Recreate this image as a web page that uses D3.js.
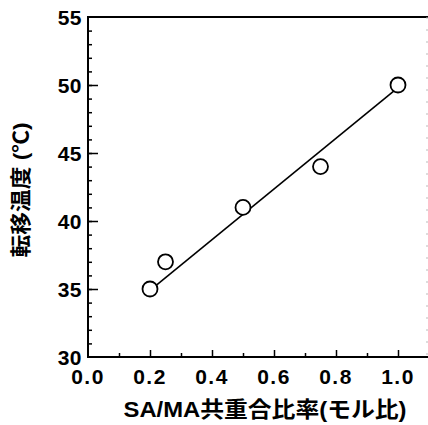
<!DOCTYPE html>
<html>
<head>
<meta charset="utf-8">
<script src="https://cdn.jsdelivr.net/npm/d3@7"></script>
<style>
  body { margin: 0; background: #fff; }
  text { font-family: "Liberation Sans", Arial, "Noto Sans CJK JP", sans-serif; font-weight: bold; fill: #000; }
</style>
</head>
<body>
<svg id="chart" width="428" height="425"></svg>
<script>
// measured points
const ratio = [0.2, 0.25, 0.5, 0.75, 1.0];
const temp = [35, 37, 41, 44, 50];
// fitted line ends
const fitX = [0.2, 1.0];
const fitY = [34.9, 49.8];
const xTicks = [0, 0.2, 0.4, 0.6, 0.8, 1.0];
const yTicks = [30, 35, 40, 45, 50, 55];

const svg = d3.select('#chart');
const mLeft = 88, mTop = 17, mBottom = 357;

const x = d3.scaleLinear().domain([0, 1.1]).range([mLeft, mLeft + 341]);
const y = d3.scaleLinear().domain([30, 55]).range([mBottom, mTop]);

// y axis, ticks inside
svg.append('g').attr('transform', `translate(${mLeft},0)`)
  .call(d3.axisRight(y).tickValues(yTicks.filter(d => d > 30 && d < 55)).tickSize(10).tickFormat(''))
  .select('.domain').remove();
svg.append('g').attr('transform', `translate(${mLeft},0)`)
  .call(d3.axisRight(y).tickValues(d3.range(31, 55, 1)).tickSize(4).tickFormat(''))
  .select('.domain').remove();

// x axis, ticks inside
svg.append('g').attr('transform', `translate(0,${mBottom})`)
  .call(d3.axisTop(x).tickValues(xTicks.filter(d => d > 0)).tickSize(7).tickFormat(''))
  .select('.domain').remove();
svg.append('g').attr('transform', `translate(0,${mBottom})`)
  .call(d3.axisTop(x).tickValues(d3.range(0.1, 1.1, 0.2)).tickSize(4).tickFormat(''))
  .select('.domain').remove();
svg.selectAll('.tick line').attr('stroke', '#000').attr('stroke-width', 1.5);

// frame
svg.append('line').attr('x1', mLeft).attr('x2', mLeft).attr('y1', mTop - 1).attr('y2', mBottom + 1)
  .attr('stroke', '#000').attr('stroke-width', 2);
svg.append('line').attr('x1', mLeft - 1).attr('x2', 428).attr('y1', mBottom).attr('y2', mBottom)
  .attr('stroke', '#000').attr('stroke-width', 2);
svg.append('line').attr('x1', mLeft - 1).attr('x2', 428).attr('y1', mTop).attr('y2', mTop)
  .attr('stroke', '#000').attr('stroke-width', 2);
svg.append('line').attr('x1', 427).attr('x2', 427).attr('y1', mTop).attr('y2', mBottom)
  .attr('stroke', '#bbb').attr('stroke-width', 1).attr('stroke-dasharray', '2,10');

// tick labels
svg.append('g').selectAll('text').data(yTicks).join('text')
  .attr('x', mLeft - 6).attr('y', d => y(d) + 7.5)
  .attr('text-anchor', 'end').attr('font-size', 21).attr('letter-spacing', 0.5)
  .text(d => d);
svg.append('g').selectAll('text').data(xTicks).join('text')
  .attr('x', d => x(d)).attr('y', 384)
  .attr('text-anchor', 'middle').attr('font-size', 21).attr('letter-spacing', 1.5)
  .text(d => d.toFixed(1));

// fit line
const line = d3.line().x(d => x(d[0])).y(d => y(d[1]));
svg.append('path').datum(d3.zip(fitX, fitY)).attr('d', line)
  .attr('fill', 'none').attr('stroke', '#000').attr('stroke-width', 1.6);

// points
svg.append('g').selectAll('circle').data(d3.zip(ratio, temp)).join('circle')
  .attr('cx', d => x(d[0])).attr('cy', d => y(d[1])).attr('r', 7.5)
  .attr('fill', '#fff').attr('stroke', '#000').attr('stroke-width', 1.8);

// axis titles
svg.append('text').attr('x', 265).attr('y', 417).attr('text-anchor', 'middle')
  .attr('font-size', 22).attr('textLength', 283).attr('lengthAdjust', 'spacingAndGlyphs')
  .text('SA/MA共重合比率(モル比)');
svg.append('text').attr('transform', 'translate(28,190) rotate(-90)').attr('text-anchor', 'middle')
  .attr('font-size', 21).attr('textLength', 135).attr('lengthAdjust', 'spacingAndGlyphs')
  .text('転移温度 (℃)');
</script>
</body>
</html>
